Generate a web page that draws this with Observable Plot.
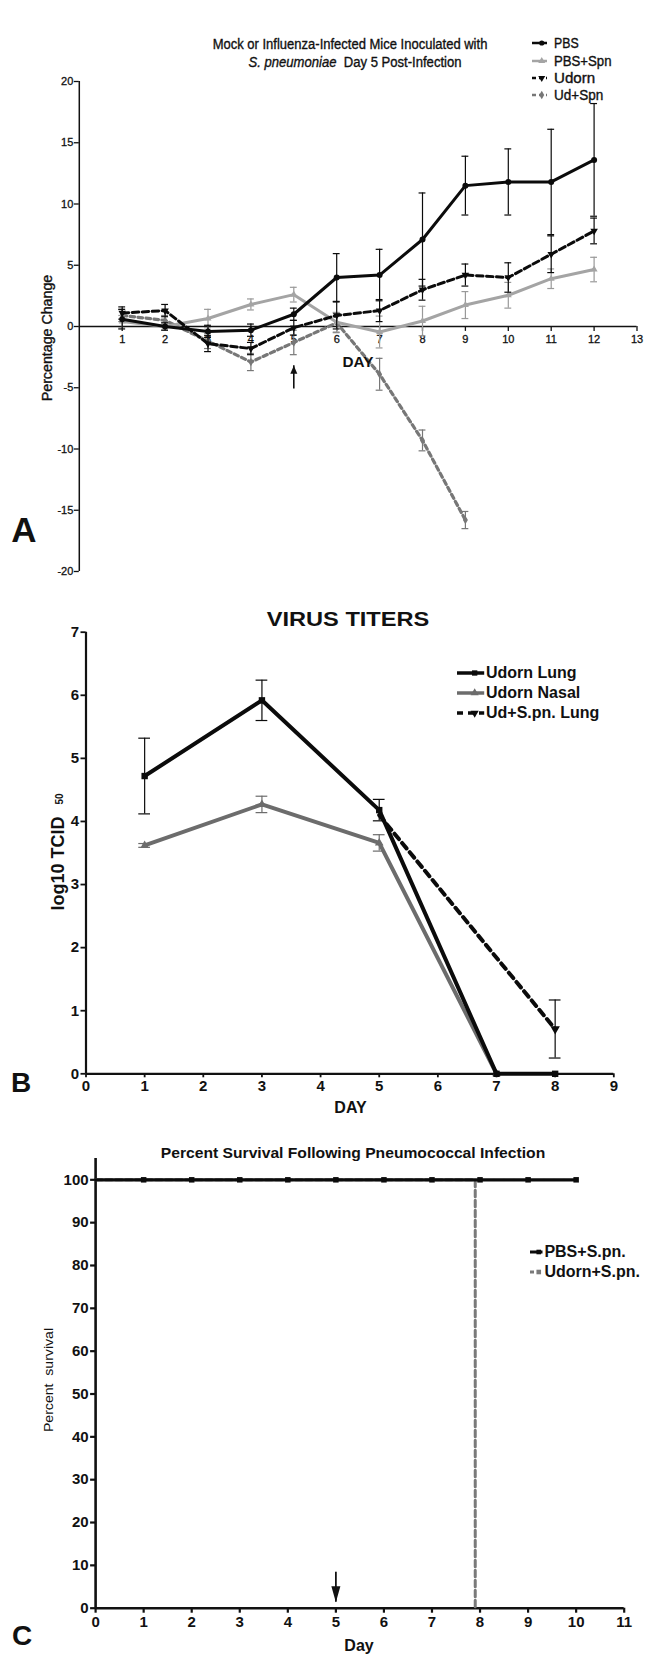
<!DOCTYPE html>
<html>
<head>
<meta charset="utf-8">
<script src="https://cdn.jsdelivr.net/npm/d3@7"></script>
<script src="https://cdn.jsdelivr.net/npm/@observablehq/plot@0.6"></script>
<style>
  html, body { margin: 0; padding: 0; background: #fff; }
  #page { position: relative; width: 654px; height: 1654px; overflow: hidden;
          font-family: "Liberation Sans", Arial, sans-serif; color: #111; }
  .panel { position: absolute; left: 0; }
  .lbl { position: absolute; white-space: nowrap; line-height: 1; }
  .heavy { -webkit-text-stroke: 0.35px #111; }
  #panelA svg text { stroke: #111; stroke-width: 0.3px; }
</style>
</head>
<body>
<div id="page"></div>
<script>
// ---------------- Panel A data: % weight change ----------------
const daysA = [1, 2, 3, 4, 5, 6, 7, 8, 9, 10, 11, 12];
const pbsMean    = [0.6, 0.0, -0.4, -0.3, 1.0, 4.0, 4.2, 7.1, 11.5, 11.8, 11.8, 13.6];
const pbsErr     = [0.8, 0.3, 0.5, 0.5, 0.5, 1.95, 2.1, 3.8, 2.4, 2.7, 4.3, 4.6];
const pbsSpnMean = [0.4, 0.0, 0.65, 1.8, 2.6, 0.35, -0.45, 0.45, 1.75, 2.55, 3.9, 4.65];
const pbsSpnErr  = [0.5, 0.3, 0.75, 0.45, 0.6, 0.8, 1.3, 1.2, 1.1, 1.05, 0.8, 1.0];
const udornMean  = [1.1, 1.3, -1.4, -1.8, -0.1, 0.9, 1.3, 3.0, 4.2, 4.0, 5.9, 7.8];
const udornErr   = [0.5, 0.5, 0.65, 0.5, 0.6, 1.1, 0.9, 0.85, 0.9, 1.2, 1.5, 1.05];
const udSpnDays  = [1, 2, 3, 4, 5, 6, 7, 8, 9];
const udSpnMean  = [0.9, 0.5, -1.2, -2.9, -1.3, 0.3, -3.9, -9.3, -15.8];
const udSpnErr   = [0.5, 0.4, 0.6, 0.7, 1.0, 0.8, 1.3, 0.85, 0.7];
const xTicksA = [1, 2, 3, 4, 5, 6, 7, 8, 9, 10, 11, 12, 13];
const yTicksA = [-20, -15, -10, -5, 0, 5, 10, 15, 20];
const arrowA = [{day: 5, from: -5.1, to: -3.2}];

// ---------------- Panel B data: virus titers ----------------
const lungDays  = [1, 3, 5, 7, 8];
const lungMean  = [4.72, 5.92, 4.18, 0, 0];
const lungErr   = [0.6, 0.32, 0.17, 0, 0];
const nasalDays = [1, 3, 5, 7];
const nasalMean = [3.62, 4.27, 3.66, 0];
const nasalErr  = [0.03, 0.13, 0.13, 0];
const udSpnLungDays = [5, 8];
const udSpnLungMean = [4.1, 0.71];
const udSpnLungErr  = [0, 0.46];
const xTicksB = [0, 1, 2, 3, 4, 5, 6, 7, 8, 9];
const yTicksB = [0, 1, 2, 3, 4, 5, 6, 7];

// ---------------- Panel C data: survival ----------------
const survDays = [0, 1, 2, 3, 4, 5, 6, 7, 8, 9, 10];
const pbsSurv  = [100, 100, 100, 100, 100, 100, 100, 100, 100, 100, 100];
const udSurvDays = [0, 7.9, 7.9];
const udSurv     = [100, 100, 0];
const xTicksC = [0, 1, 2, 3, 4, 5, 6, 7, 8, 9, 10, 11];
const yTicksC = [0, 10, 20, 30, 40, 50, 60, 70, 80, 90, 100];
const arrowC = [{day: 5, from: 8.4, to: 1.4}];

// ---------------- helpers ----------------
const page = document.getElementById("page");
const FONT = "'Liberation Sans', Arial, sans-serif";
const triDown = {draw(ctx, size) {
  const y = -Math.sqrt(size / (Math.sqrt(3) * 3));
  ctx.moveTo(0, -y * 2); ctx.lineTo(-Math.sqrt(3) * y, y); ctx.lineTo(Math.sqrt(3) * y, y); ctx.closePath();
}};
const headUp = {draw(ctx) { ctx.moveTo(0, 0); ctx.lineTo(-3.5, 8); ctx.lineTo(3.5, 8); ctx.closePath(); }};
const headDown = {draw(ctx) { ctx.moveTo(0, 0); ctx.lineTo(-4.5, -16); ctx.lineTo(4.5, -16); ctx.closePath(); }};

function rows(days, mean, err) { return days.map((d, i) => ({day: d, v: mean[i], e: err ? err[i] : 0})); }
function addPlot(svg, top, id) {
  const d = document.createElement("div"); d.className = "panel"; d.id = id; d.style.top = top + "px";
  d.appendChild(svg); page.appendChild(d);
}
function label(html, x, y, o = {}) {
  const el = document.createElement("div");
  el.className = "lbl" + (o.heavy ? " heavy" : ""); el.innerHTML = html;
  Object.assign(el.style, {fontSize: (o.size || 12) + "px", fontWeight: o.weight || "normal",
    letterSpacing: o.ls || "normal", left: x + "px", top: y + "px", color: o.color || "#111"});
  page.appendChild(el);
  const w = el.offsetWidth;
  const s = o.width ? o.width / w : 1;
  if (o.anchor === "start") { el.style.transformOrigin = "0 50%"; el.style.transform = `translate(0,-50%) scaleX(${s})`; }
  else el.style.transform = `translate(-50%,-50%)` + (o.rotate ? ` rotate(${o.rotate}deg)` : "") + ` scaleX(${s})`;
}
function swatch(x1, x2, y, o) {
  const len = x2 - x1;
  const svg = d3.create("svg").attr("width", len + 10).attr("height", 14)
    .style("position", "absolute").style("left", (x1 - 5) + "px").style("top", (y - 7) + "px").style("overflow", "visible");
  svg.append("line").attr("x1", 5).attr("x2", 5 + len).attr("y1", 7).attr("y2", 7)
    .attr("stroke", o.stroke).attr("stroke-width", o.width || 2.5).attr("stroke-dasharray", o.dash || null);
  if (o.symbol) svg.append("path").attr("transform", `translate(${5 + len * (o.at || 0.6)},7)`)
    .attr("d", d3.symbol(o.symbol, (o.r || 3) ** 2 * Math.PI)()).attr("fill", o.stroke);
  page.appendChild(svg.node());
}
function seriesMarks(data, o) {
  const capW = o.capW;
  const withErr = data.filter(d => d.e > 0);
  const ec = o.errColor || o.stroke;
  return [
    Plot.ruleX(withErr, {x: "day", y1: d => d.v - d.e, y2: d => d.v + d.e, stroke: ec, strokeWidth: 1.2}),
    Plot.ruleY(withErr, {y: d => d.v + d.e, x1: d => d.day - capW, x2: d => d.day + capW, stroke: ec, strokeWidth: 1.2}),
    Plot.ruleY(withErr, {y: d => d.v - d.e, x1: d => d.day - capW, x2: d => d.day + capW, stroke: ec, strokeWidth: 1.2}),
    Plot.line(data, {x: "day", y: "v", stroke: o.stroke, strokeWidth: o.width, strokeDasharray: o.dash, strokeLinejoin: "round"}),
    Plot.dot(data.filter(o.markFilter || (() => true)), {x: "day", y: "v", symbol: o.symbol, r: o.r, fill: o.stroke, stroke: "none"})
  ];
}

// ---------------- Panel A ----------------
const A_pbs = rows(daysA, pbsMean, pbsErr);
const A_pbsSpn = rows(daysA, pbsSpnMean, pbsSpnErr);
const A_udorn = rows(daysA, udornMean, udornErr);
const A_udSpn = rows(udSpnDays, udSpnMean, udSpnErr);
const colA = {pbs: "#0b0b0b", pbsSpn: "#a4a4a4", udorn: "#0b0b0b", udSpn: "#777777"};

const plotA = Plot.plot({
  width: 654, height: 590,
  marginLeft: 78.8, marginRight: 17.5, marginTop: 81, marginBottom: 19,
  x: {domain: [0, 13], axis: null},
  y: {domain: [-20, 20]},
  style: {fontFamily: FONT, fontSize: "11px", color: "#111", background: "transparent"},
  marks: [
    Plot.axisY({ticks: yTicksA, tickSize: 5, tickPadding: 1, tickFormat: d => String(d), fontSize: 11, label: null, strokeWidth: 1.3}),
    Plot.ruleX([0], {y1: () => d3.min(yTicksA), y2: () => d3.max(yTicksA), stroke: "#111", strokeWidth: 1.5}),
    Plot.ruleY([0], {x1: () => 0, x2: () => d3.max(xTicksA), stroke: "#111", strokeWidth: 1.5}),
    Plot.ruleX(xTicksA, {x: d => d, y1: () => 0, y2: () => -0.4, stroke: "#111", strokeWidth: 1.3}),
    Plot.text(xTicksA, {x: d => d, y: () => 0, dy: 9, lineAnchor: "top", text: d => String(d), fontSize: 11, fill: "#111"}),
    ...seriesMarks(A_udSpn, {stroke: colA.udSpn, width: 3.2, dash: "4.5,3.5", symbol: "diamond", r: 2.6, capW: 0.08}),
    ...seriesMarks(A_pbsSpn, {stroke: colA.pbsSpn, width: 3, symbol: "triangle", r: 2.6, capW: 0.08, errColor: "#999"}),
    ...seriesMarks(A_udorn, {stroke: colA.udorn, width: 3, dash: "6.5,3.5", symbol: triDown, r: 2.8, capW: 0.08}),
    ...seriesMarks(A_pbs, {stroke: colA.pbs, width: 3, symbol: "circle", r: 3, capW: 0.08}),
    Plot.ruleX(arrowA, {x: "day", y1: "from", y2: "to", stroke: "#111", strokeWidth: 1.6}),
    Plot.dot(arrowA, {x: "day", y: "to", symbol: headUp, fill: "#111", stroke: "none"})
  ]
});
addPlot(plotA, 0, "panelA");

label("Mock or Influenza-Infected Mice Inoculated with", 350.4, 44, {size: 14, width: 275, heavy: true});
label("<i>S. pneumoniae</i>&nbsp; Day 5 Post-Infection", 354.5, 62, {size: 14, width: 213, heavy: true});
const legA = [
  {t: "PBS", y: 43.3, stroke: colA.pbs, symbol: d3.symbolCircle},
  {t: "PBS+Spn", y: 60.7, stroke: colA.pbsSpn, symbol: d3.symbolTriangle},
  {t: "Udorn", y: 78.3, stroke: colA.udorn, symbol: triDown, dash: "4,3"},
  {t: "Ud+Spn", y: 95.3, stroke: colA.udSpn, symbol: d3.symbolDiamond, dash: "4,3"}
];
legA.forEach(l => {
  swatch(531.7, 546.7, l.y, {stroke: l.stroke, symbol: l.symbol, dash: l.dash, r: 2.6, width: 2.5, at: 0.65});
  label(l.t, 554, l.y, {size: 14, anchor: "start", width: l.t.length * 8.2, heavy: true});
});
label("DAY", 358, 361.5, {size: 14, weight: "bold", width: 30.6});
label("Percentage Change", 47, 338, {size: 14, rotate: -90, width: 127, heavy: true});
label("A", 24, 529, {size: 35, weight: "bold"});

// ---------------- Panel B ----------------
const B_lung = rows(lungDays, lungMean, lungErr);
const B_nasal = rows(nasalDays, nasalMean, nasalErr);
const B_udSpn = rows(udSpnLungDays, udSpnLungMean, udSpnLungErr);
const colB = {lung: "#0b0b0b", nasal: "#6c6c6c", udSpn: "#0b0b0b"};

const plotB = Plot.plot({
  width: 654, height: 520,
  marginLeft: 85.5, marginRight: 40.7, marginTop: 31.7, marginBottom: 46.7,
  x: {domain: [0, 9]},
  y: {domain: [0, 7]},
  style: {fontFamily: FONT, fontSize: "15px", fontWeight: "bold", color: "#111", background: "transparent"},
  marks: [
    Plot.axisY({ticks: yTicksB, tickSize: 5, tickPadding: 2, tickFormat: d => String(d), label: null, strokeWidth: 1.8}),
    Plot.axisX({ticks: xTicksB, tickSize: 4, tickPadding: 3, tickFormat: d => String(d), label: null, strokeWidth: 1.8}),
    Plot.ruleX([0], {y1: () => 0, y2: () => d3.max(yTicksB), stroke: "#111", strokeWidth: 2.2}),
    Plot.ruleY([0], {x1: () => 0, x2: () => d3.max(xTicksB), stroke: "#111", strokeWidth: 2.2}),
    ...seriesMarks(B_udSpn, {stroke: colB.udSpn, width: 4, dash: "7,5", symbol: triDown, r: 3.5, capW: 0.1, markFilter: d => d.day > 5}),
    ...seriesMarks(B_nasal, {stroke: colB.nasal, width: 4, symbol: "triangle", r: 3.2, capW: 0.1}),
    ...seriesMarks(B_lung, {stroke: colB.lung, width: 4, symbol: "square", r: 3.6, capW: 0.1})
  ]
});
addPlot(plotB, 600, "panelB");

label("VIRUS TITERS", 348.4, 618, {size: 21, weight: "bold", width: 163});
const legB = [
  {t: "Udorn Lung", y: 673.3, stroke: colB.lung, symbol: d3.symbolSquare},
  {t: "Udorn Nasal", y: 693.3, stroke: colB.nasal, symbol: d3.symbolTriangle},
  {t: "Ud+S.pn. Lung", y: 713.3, stroke: colB.udSpn, symbol: triDown, dash: "6,5"}
];
legB.forEach(l => {
  swatch(456.8, 484, l.y, {stroke: l.stroke, symbol: l.symbol, dash: l.dash, r: 3, width: 3.5, at: 0.65});
  label(l.t, 486, l.y, {size: 16, weight: "bold", anchor: "start"});
});
label("log10 TCID<span style='font-size:10px;margin-left:12px;position:relative;top:-1px'>50</span>", 57.7, 852.4, {size: 18, weight: "bold", rotate: -90});
label("DAY", 350.5, 1108, {size: 16, weight: "bold"});
label("B", 21, 1083, {size: 28, weight: "bold"});

// ---------------- Panel C ----------------
const C_pbs = rows(survDays, pbsSurv);
const C_ud = rows(udSurvDays, udSurv);
const plotC = Plot.plot({
  width: 654, height: 529,
  marginLeft: 95.1, marginRight: 30.3, marginTop: 32.9, marginBottom: 46.3,
  x: {domain: [0, 11]},
  y: {domain: [0, 105]},
  style: {fontFamily: FONT, fontSize: "15px", fontWeight: "bold", color: "#111", background: "transparent"},
  marks: [
    Plot.axisY({ticks: yTicksC, tickSize: 5, tickPadding: 2, label: null, strokeWidth: 2.2}),
    Plot.axisX({ticks: xTicksC, tickSize: 5, tickPadding: 3, label: null, strokeWidth: 2.2}),
    Plot.ruleX([0], {y1: () => 0, y2: () => 105, stroke: "#111", strokeWidth: 2.6}),
    Plot.ruleY([0], {x1: () => 0, x2: () => d3.max(xTicksC), stroke: "#111", strokeWidth: 2.6}),
    Plot.line(C_ud, {x: "day", y: "v", stroke: "#7a7a7a", strokeWidth: 3, strokeDasharray: "6.5,3.5"}),
    Plot.line(C_pbs, {x: "day", y: "v", stroke: "#0b0b0b", strokeWidth: 3.3}),
    Plot.dot(C_pbs.filter(d => d.day > 0), {x: "day", y: "v", symbol: "square", r: 3.1, fill: "#0b0b0b"}),
    Plot.ruleX(arrowC, {x: "day", y1: "from", y2: "to", stroke: "#111", strokeWidth: 1.8}),
    Plot.dot(arrowC, {x: "day", y: "to", symbol: headDown, fill: "#111", stroke: "none"})
  ]
});
addPlot(plotC, 1125, "panelC");

label("Percent Survival Following Pneumococcal Infection", 352.5, 1152, {size: 15, weight: "bold", width: 384});
const legC = [
  {t: "PBS+S.pn.", y: 1251.7, stroke: "#0b0b0b", dash: null},
  {t: "Udorn+S.pn.", y: 1271.7, stroke: "#7a7a7a", dash: "4,3"}
];
legC.forEach(l => {
  swatch(529.8, 542.3, l.y, {stroke: l.stroke, symbol: d3.symbolSquare, dash: l.dash, r: 2.6, width: 3, at: 0.7});
  label(l.t, 544.4, l.y, {size: 16, weight: "bold", anchor: "start"});
});
label("Percent&nbsp; survival", 48, 1380, {size: 13, rotate: -90, width: 104});
label("Day", 359, 1646, {size: 16, weight: "bold"});
label("C", 22, 1636, {size: 28, weight: "bold"});
</script>
</body>
</html>
